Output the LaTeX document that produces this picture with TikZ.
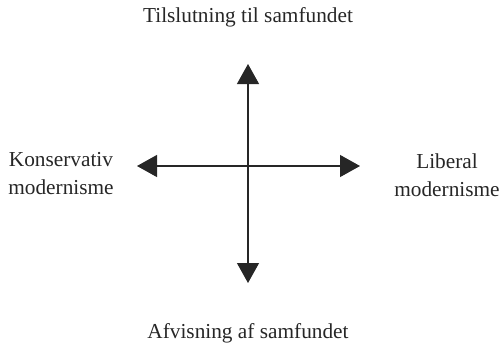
\documentclass[tikz,border=0pt]{standalone}
\usepackage{fontspec}
\setmainfont{Liberation Serif}
\usetikzlibrary{arrows.meta}
\begin{document}
\begin{tikzpicture}[x=1pt,y=-1pt,
  axis/.style={draw=black!85, line width=1.2pt, {Triangle[width=22pt,length=20pt]}-{Triangle[width=22pt,length=20pt]}},
  lbl/.style={font=\fontsize{21.3}{28}\selectfont, text=black!85, align=center, inner sep=0pt}]
\useasboundingbox (0,0) rectangle (502,351);
\coordinate (top) at (248,64);
\coordinate (bot) at (248,283);
\coordinate (lft) at (137,166);
\coordinate (rgt) at (360,166);
\draw[axis] (bot) -- (top);
\draw[axis] (lft) -- (rgt);
\node[lbl] (t) at (248,17) {Tilslutning til samfundet};
\node[lbl] (b) at (248,333) {Afvisning af samfundet};
\node[lbl] (l) at (61,174) {Konservativ\\modernisme};
\node[lbl] (r) at (447,175) {Liberal\\modernisme};
\end{tikzpicture}
\end{document}
